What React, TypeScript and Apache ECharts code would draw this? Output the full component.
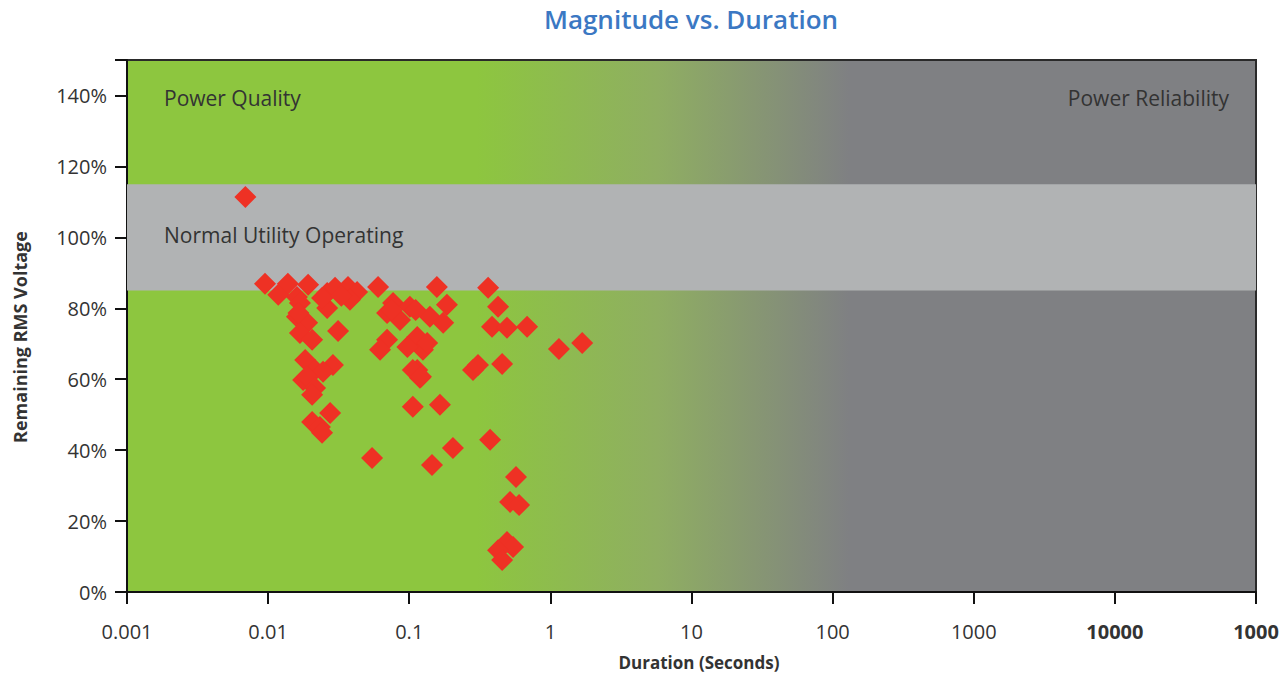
import React, { useEffect, useRef } from "react";
import * as echarts from "echarts";

// ---- data ----
const xTickLabels = ["0.001", "0.01", "0.1", "1", "10", "100", "1000", "10000", "1000"];
const xTickBold = [false, false, false, false, false, false, false, true, true];
const yTickMax = 140;

const durationSec = [
  0.0069, 0.0095, 0.0118, 0.0138, 0.016, 0.0192, 0.0168, 0.016, 0.0189, 0.0168,
  0.0205, 0.0262, 0.0313, 0.0262, 0.0298, 0.0368, 0.0427, 0.038, 0.0601, 0.0183,
  0.0215, 0.0288, 0.0245, 0.0177, 0.0189, 0.0215, 0.0205, 0.0205, 0.0233, 0.0275,
  0.0241, 0.0545, 0.157, 0.0696, 0.0621, 0.106, 0.165, 0.204, 0.145, 0.374,
  0.362, 0.386, 0.283, 0.307, 0.114, 0.125, 0.114, 0.119, 0.0768, 0.0696,
  0.101, 0.086, 0.14, 0.185, 0.174, 0.426, 0.493, 0.684, 1.15, 1.68,
  0.455, 0.571, 0.518, 0.6, 0.493, 0.544, 0.426, 0.455, 0.134, 0.097,
  0.111, 0.106, 0.121, 0.0241, 0.033, 0.075, 0.0164,
];
const remainingPct = [
  111.4, 86.9, 83.8, 86.9, 83.2, 86.6, 81.5, 77.6, 75.9, 73.0,
  71.1, 80.1, 73.6, 84.3, 85.8, 86.0, 84.6, 82.4, 86.0, 65.4,
  62.6, 64.0, 62.1, 59.8, 60.7, 57.5, 55.6, 47.9, 46.5, 50.5,
  44.9, 37.8, 86.0, 71.1, 68.3, 52.2, 52.8, 40.6, 35.8, 42.9,
  85.8, 74.8, 62.6, 64.0, 71.9, 68.3, 62.6, 60.4, 81.5, 78.7,
  80.4, 76.7, 77.6, 81.0, 75.9, 80.4, 74.5, 74.8, 68.5, 70.2,
  64.3, 32.4, 25.4, 24.5, 14.1, 12.7, 11.8, 9.0, 70.2, 69.1,
  79.5, 62.6, 60.7, 82.9, 83.5, 79.5, 78.7,
];
const normalBand = [85, 115];

const FONT = "Open Sans";

export default function App() {
  const ref = useRef<HTMLDivElement>(null);
  useEffect(() => {
    if (!ref.current) return;
    const chart = echarts.init(ref.current, null, { renderer: "svg" });
    const points = durationSec.map((d, i) => [d, remainingPct[i]]);
    chart.setOption({
      animation: false,
      textStyle: { fontFamily: FONT },
      grid: {
        left: 127,
        right: 30,
        top: 60,
        bottom: 81,
        containLabel: false,
        outerBoundsMode: "none",
        show: true,
        borderColor: "#2a2a2a",
        borderWidth: 2,
        backgroundColor: new echarts.graphic.LinearGradient(0, 0, 1, 0, [
          { offset: 0, color: "#8dc63f" },
          { offset: 0.31, color: "#8dc63f" },
          { offset: 0.47, color: "#8fae62" },
          { offset: 0.64, color: "#7f8083" },
          { offset: 1, color: "#7f8083" },
        ]),
      },
      graphic: [
        {
          type: "text",
          x: 691,
          y: 6,
          style: {
            text: "Magnitude vs. Duration",
            fontSize: 26,
            fontWeight: 600,
            fill: "#3b78c3",
            fontFamily: FONT,
            textAlign: "center",
            textVerticalAlign: "top",
          },
        },
        {
          type: "text",
          x: 20,
          y: 337,
          rotation: Math.PI / 2,
          style: {
            text: "Remaining RMS Voltage",
            fontSize: 18,
            fontWeight: "bold",
            fill: "#333",
            fontFamily: FONT,
            textAlign: "center",
            textVerticalAlign: "middle",
          },
        },
        {
          type: "text",
          x: 699,
          y: 662,
          style: {
            text: "Duration (Seconds)",
            fontSize: 17,
            fontWeight: "bold",
            fill: "#333",
            fontFamily: FONT,
            textAlign: "center",
            textVerticalAlign: "middle",
          },
        },
        {
          type: "text",
          left: 164,
          top: 87,
          z: 10,
          style: { text: "Power Quality", fontSize: 21, fill: "#333", fontFamily: FONT },
        },
        {
          type: "text",
          right: 57,
          top: 87,
          z: 10,
          style: { text: "Power Reliability", fontSize: 21, fill: "#333", fontFamily: FONT },
        },
        {
          type: "text",
          left: 164,
          top: 224,
          z: 10,
          style: { text: "Normal Utility Operating", fontSize: 21, fill: "#333", fontFamily: FONT },
        },
      ],
      xAxis: {
        type: "log",
        logBase: 10,
        min: 0.001,
        max: 100000,
        splitNumber: 8,
        axisLine: { lineStyle: { color: "#111", width: 2 } },
        axisTick: { show: true, length: 12, lineStyle: { color: "#111", width: 2 } },
        minorTick: { show: false },
        splitLine: { show: false },
        axisLabel: {
          margin: 29,
          fontSize: 20,
          color: "#333",
          fontFamily: FONT,
          showMaxLabel: true,
          showMinLabel: true,
          formatter: (v: number) => {
            const i = Math.round(Math.log10(v)) + 3;
            const t = xTickLabels[i] ?? "";
            return xTickBold[i] ? `{b|${t}}` : t;
          },
          rich: { b: { fontSize: 20, fontWeight: "bold", color: "#333", fontFamily: FONT } },
        },
      },
      yAxis: {
        type: "value",
        min: 0,
        max: 150,
        interval: 20,
        axisLine: { show: true, lineStyle: { color: "#111", width: 2 } },
        axisTick: { show: true, length: 12, lineStyle: { color: "#111", width: 2 } },
        splitLine: { show: false },
        axisLabel: {
          margin: 20,
          fontSize: 20,
          color: "#333",
          fontFamily: FONT,
          formatter: (v: number) => (v > yTickMax ? "" : `${v}%`),
        },
      },
      series: [
        {
          type: "scatter",
          data: [],
          z: 1,
          silent: true,
          markArea: {
            silent: true,
            itemStyle: { color: "#b1b3b4", opacity: 1 },
            data: [[{ yAxis: normalBand[0] }, { yAxis: normalBand[1] }]],
          },
        },
        {
          type: "scatter",
          z: 5,
          symbol: "diamond",
          symbolSize: 22,
          itemStyle: { color: "#ee3124", opacity: 1 },
          data: points,
        },
      ],
    });
    return () => chart.dispose();
  }, []);
  return (
    <div
      ref={ref}
      style={{ position: "fixed", left: 0, top: 0, width: 1286, height: 673, background: "#fff" }}
    />
  );
}
